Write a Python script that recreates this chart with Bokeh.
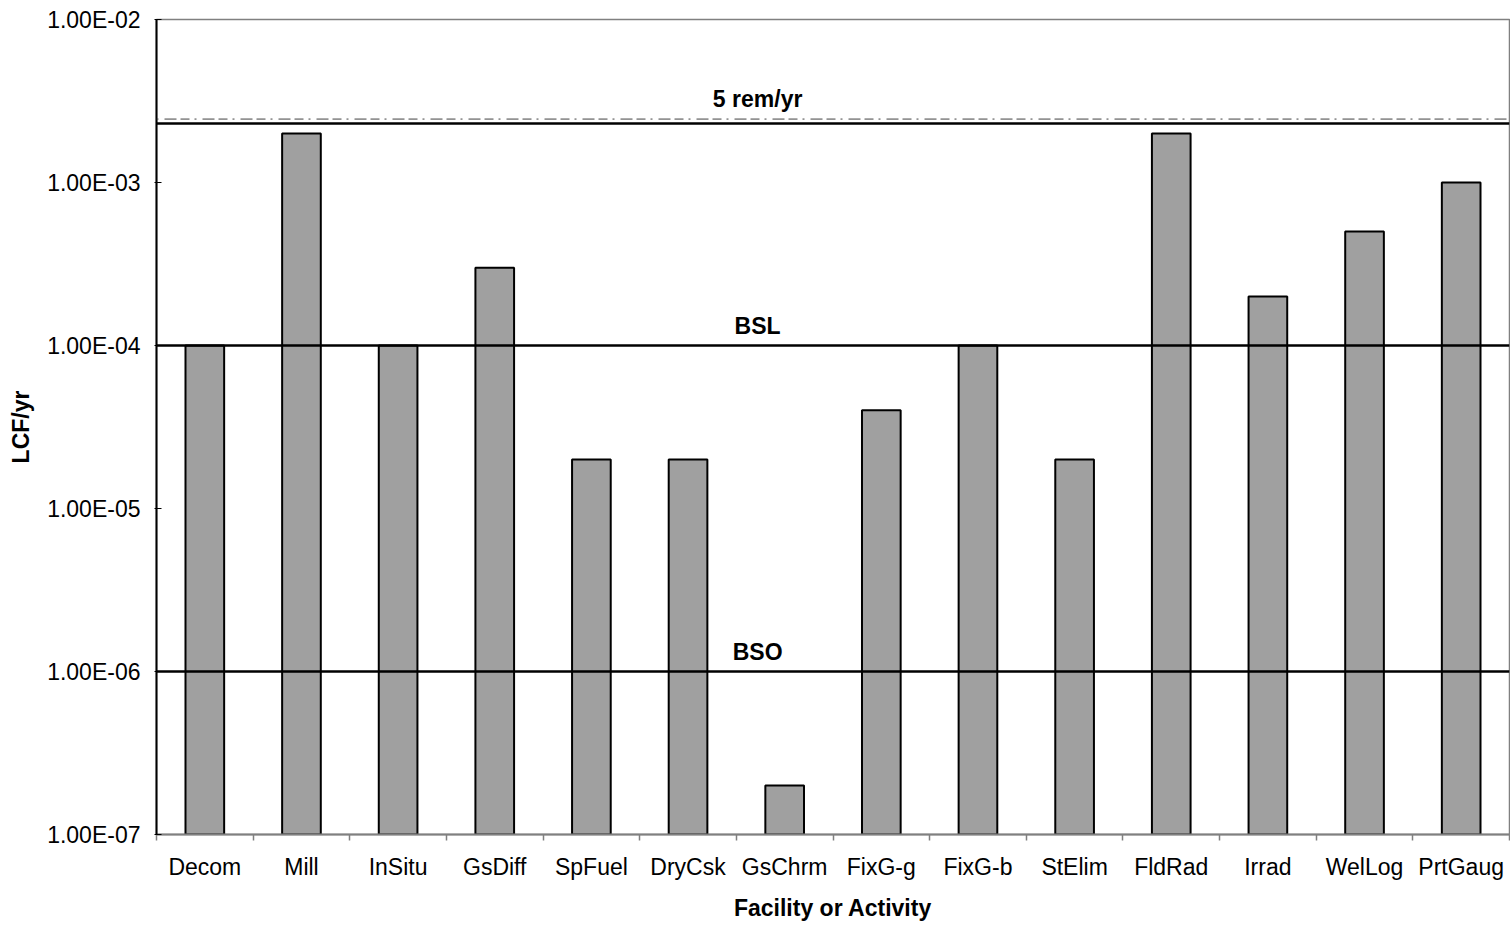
from bokeh.plotting import figure
from bokeh.models import (Range1d, FixedTicker, CustomJSTickFormatter, Span, Label,
                          ColumnDataSource)
from bokeh.embed import file_html
from bokeh.resources import INLINE

categories = ["Decom", "Mill", "InSitu", "GsDiff", "SpFuel", "DryCsk", "GsChrm",
              "FixG-g", "FixG-b", "StElim", "FldRad", "Irrad", "WelLog", "PrtGaug"]
lcf_values = [1e-4, 2e-3, 1e-4, 3e-4, 2e-5, 2e-5, 2e-7,
              4e-5, 1e-4, 2e-5, 2e-3, 2e-4, 5e-4, 1e-3]
y_ticks = [1e-7, 1e-6, 1e-5, 1e-4, 1e-3, 1e-2]
ref_levels = {"BSO": 1e-6, "BSL": 1e-4, "5 rem/yr": 2.3e-3}
dashed_level = 2.45e-3

FONT = "Liberation Sans"
FS = "23px"
n = len(categories)
x_pos = [i + 0.5 for i in range(n)]
src = ColumnDataSource(dict(x=x_pos, top=lcf_values, cat=categories))

p = figure(width=1510, height=923, y_axis_type="log",
           x_range=Range1d(0, n), y_range=Range1d(y_ticks[0], y_ticks[-1]),
           output_backend="svg", toolbar_location=None,
           min_border_left=156, min_border_right=1, min_border_top=19,
           min_border_bottom=88)
p.background_fill_color = "white"
p.border_fill_color = "white"
p.outline_line_color = "#808080"
p.outline_line_width = 1.5
p.xgrid.visible = False
p.ygrid.visible = False

p.vbar(x="x", top="top", bottom=y_ticks[0], width=0.4, source=src,
       fill_color="#A0A0A0", line_color="black", line_width=2)

# reference lines
p.add_layout(Span(location=dashed_level, dimension="width", line_color="#404040",
                  line_width=1, line_dash="2 6 12 4 9 5"))
for name, lvl in ref_levels.items():
    p.add_layout(Span(location=lvl, dimension="width", line_color="black", line_width=2.5))
    p.add_layout(Label(x=6.22, y=lvl, text=name, text_align="center",
                       text_baseline="bottom", y_offset=7 if name != "5 rem/yr" else 12,
                       text_font=FONT, text_font_style="bold",
                       text_font_size=FS, text_color="black"))

# y axis
ya = p.yaxis[0]
ya.ticker = FixedTicker(ticks=y_ticks, minor_ticks=[])
ya.formatter = CustomJSTickFormatter(code="""
const e = Math.round(Math.log10(tick));
const m = tick / Math.pow(10, e);
const s = e < 0 ? "-" : "+";
return m.toFixed(2) + "E" + s + String(Math.abs(e)).padStart(2, "0");
""")
ya.axis_label = "LCF/yr"
ya.axis_label_text_font = FONT
ya.axis_label_text_font_style = "bold"
ya.axis_label_text_font_size = FS
ya.axis_label_text_color = "black"
ya.axis_label_standoff = 10
ya.major_label_text_font = FONT
ya.major_label_text_font_size = FS
ya.major_label_text_color = "black"
ya.major_label_standoff = 14
ya.major_tick_in = 5
ya.major_tick_out = 2
ya.major_tick_line_color = "black"
ya.axis_line_color = "black"
ya.axis_line_width = 2

# x axis
xa = p.xaxis[0]
xa.ticker = FixedTicker(ticks=x_pos, minor_ticks=list(range(n + 1)))
xa.formatter = CustomJSTickFormatter(args=dict(cats=categories),
                                     code="return cats[Math.floor(tick)] || '';")
xa.axis_label = "Facility or Activity"
xa.axis_label_text_font = FONT
xa.axis_label_text_font_style = "bold"
xa.axis_label_text_font_size = FS
xa.axis_label_text_color = "black"
xa.axis_label_standoff = 12
xa.major_label_text_font = FONT
xa.major_label_text_font_size = FS
xa.major_label_text_color = "black"
xa.major_label_standoff = 13
xa.major_tick_in = 0
xa.major_tick_out = 0
xa.minor_tick_in = 0
xa.minor_tick_out = 6
xa.minor_tick_line_color = "#808080"
xa.minor_tick_line_width = 1.5
xa.axis_line_color = "#808080"
xa.axis_line_width = 2

open("out.html", "w").write(file_html(p, INLINE))
